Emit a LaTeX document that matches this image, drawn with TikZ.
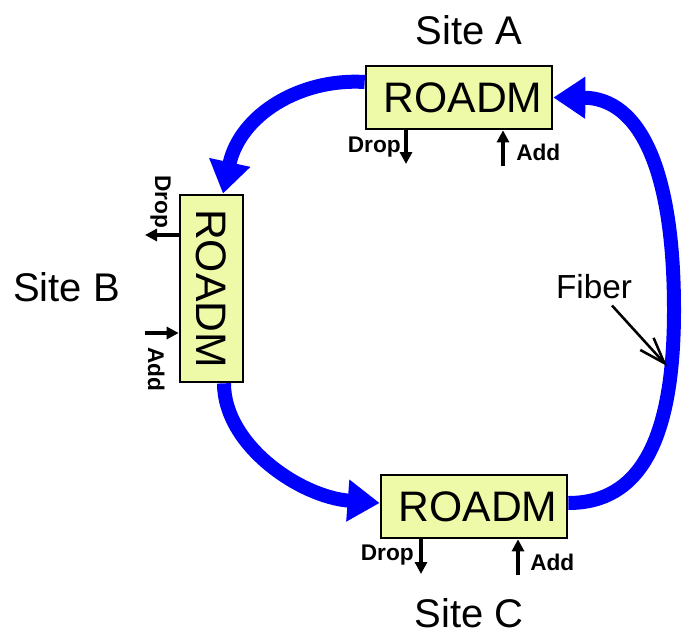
\documentclass[tikz,border=0pt]{standalone}
\usepackage{fontspec}
\setmainfont{Liberation Sans}
\usetikzlibrary{arrows.meta,positioning,calc}

\definecolor{roadmfill}{RGB}{238,250,168}
\definecolor{ringblue}{RGB}{0,0,255}

\begin{document}
\begin{tikzpicture}[x=0.75pt,y=-0.75pt,
    roadm/.style={draw,line width=2pt,fill=roadmfill,inner sep=0pt,
      font=\fontsize{32}{36}\selectfont},
    site/.style={font=\fontsize{30}{34}\selectfont,inner sep=0pt},
    port/.style={font=\bfseries\fontsize{17}{19}\selectfont,inner sep=0pt},
    ring/.style={line width=10.5pt,draw=ringblue,
      -{Triangle[length=24pt,width=30pt]}},
    tap/.style={line width=2.3pt,-{Triangle[length=9pt,width=9pt]}}]
  \useasboundingbox (0,0) rectangle (682,635);
  % the three sites
  \node[roadm,minimum width=139.5pt,minimum height=47.25pt] (roadmA) at (459,97.5) {\hspace{6pt}ROADM};
  \node[roadm,minimum width=47.25pt,minimum height=140.25pt] (roadmB) at (211.5,288.5) {\rotatebox{-90}{ROADM}};
  \node[roadm,minimum width=139.5pt,minimum height=47.25pt] (roadmC) at (474,506.5) {\hspace{6pt}ROADM};
  \node[site] (siteA) at (469,30)   {Site A};
  \node[site] (siteB) at (66.5,287) {Site B};
  \node[site] (siteC) at (469,613)  {Site C};
  % drop and add ports
  \coordinate (dropA) at (406,164);
  \coordinate (addA)  at (503,166);
  \coordinate (dropB) at (145,235);
  \coordinate (addB)  at (145,333);
  \coordinate (dropC) at (421,574);
  \coordinate (addC)  at (518,575);
  \draw[tap] (dropA |- roadmA.south) -- (dropA);
  \draw[tap] (addA) -- (addA |- roadmA.south);
  \draw[tap] (dropB -| roadmB.west) -- (dropB);
  \draw[tap] (addB) -- (addB -| roadmB.west);
  \draw[tap] (dropC |- roadmC.south) -- (dropC);
  \draw[tap] (addC) -- (addC |- roadmC.south);
  \node[port,anchor=base east] (dropAtext) at (401,152) {Drop};
  \node[port,anchor=base west] (addAtext)  at (516,160) {Add};
  \node[port,rotate=-90,anchor=base west] (dropBtext) at (155,175) {Drop};
  \node[port,rotate=-90,anchor=base west] (addBtext)  at (148,347) {Add};
  \node[port,anchor=base east] (dropCtext) at (414,560) {Drop};
  \node[port,anchor=base west] (addCtext)  at (530,570) {Add};
  % fiber ring
  \draw[ring] ($(roadmA.west)+(0,-15.5)$) .. controls (300,78) and (240,115) .. ($(roadmB.north)+(11.5,0)$);
  \draw[ring] ($(roadmB.south)+(12.5,0)$) .. controls (224,445) and (300,497) .. ($(roadmC.west)+(0,-3.5)$);
  \draw[ring] ($(roadmC.east)+(0,-3.5)$) .. controls (640,503) and (674,440) .. (674,310)
    .. controls (674,170) and (640,98) .. (roadmA.east);
  \node[font=\fontsize{25}{28}\selectfont,inner sep=0pt] (fiber) at (594,287) {Fiber};
  \coordinate (fibertouch) at (667,366);
  \draw[line width=1.9pt,-{Straight Barb[length=19.5pt,width=13.5pt]}] ($(fiber.south)+(18,6)$) -- (fibertouch);
\end{tikzpicture}
\end{document}
